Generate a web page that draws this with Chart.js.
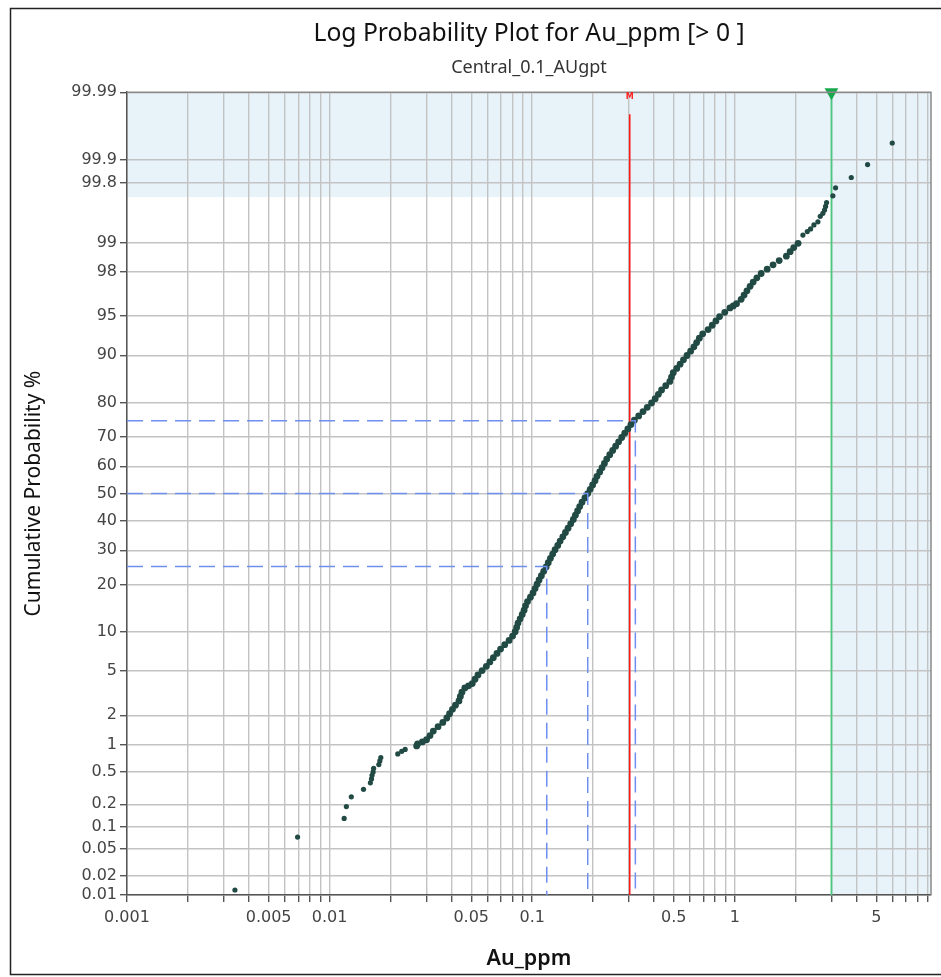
<!DOCTYPE html>
<html>
<head>
<meta charset="utf-8">
<title>Log Probability Plot for Au_ppm</title>
<script src="https://cdn.jsdelivr.net/npm/chart.js@4.4.1/dist/chart.umd.min.js"></script>
<style>
  html, body { margin: 0; padding: 0; background: #fff; }
  #wrap { width: 941px; height: 977px; }
</style>
</head>
<body>
<div id="wrap"><canvas id="probChart" width="941" height="977"></canvas></div>
<script>
// ---- sample values (Au ppm, sorted) and their cumulative probability % ----
const auPpm = [
  0.00341, 0.00695, 0.0118, 0.0121, 0.0128, 0.0147, 0.0159, 0.0161, 0.0162, 0.0164,
  0.0165, 0.0175, 0.0177, 0.0179, 0.0217, 0.0227, 0.0236, 0.0269,
  0.0272, 0.0287, 0.0301, 0.0313, 0.0325, 0.0343, 0.0362, 0.0379, 0.0391, 0.0404,
  0.0418, 0.0435, 0.0442, 0.0450, 0.0465, 0.0485, 0.0506, 0.0522, 0.0540, 0.0566,
  0.0594, 0.0618, 0.0643, 0.0670, 0.0698, 0.0732, 0.0769, 0.0800, 0.0824, 0.0838,
  0.0851, 0.0872, 0.0893, 0.0912, 0.0927, 0.0948, 0.0980, 0.1009, 0.1033, 0.1057,
  0.1081, 0.1110, 0.1140, 0.1172, 0.1200, 0.1230, 0.1262, 0.1297, 0.1337, 0.1374,
  0.1416, 0.1459, 0.1503, 0.1549, 0.1596, 0.1634, 0.1675, 0.1716, 0.1762, 0.1820,
  0.1879, 0.1933, 0.1987, 0.2042, 0.2088, 0.2154, 0.2212, 0.2272, 0.2333, 0.2415,
  0.2496, 0.2582, 0.2671, 0.2766, 0.2864, 0.2966, 0.3072, 0.3194, 0.3355, 0.3524,
  0.3698, 0.3882, 0.4046, 0.4196, 0.4352, 0.4563, 0.4780, 0.4871, 0.4969, 0.5170,
  0.5370, 0.5580, 0.5809, 0.6053, 0.6284, 0.6481, 0.6683, 0.6944, 0.7379, 0.7740,
  0.8071, 0.8414, 0.8925, 0.9462, 0.983, 1.020, 1.075, 1.111, 1.148, 1.190,
  1.232, 1.285, 1.350, 1.445, 1.545, 1.656, 1.797, 1.876, 1.954, 2.053,
  2.169, 2.280, 2.367, 2.458, 2.572, 2.642, 2.721, 2.774, 2.806, 2.838,
  3.049, 3.144, 3.757, 4.523, 5.987
];
const cumPct = [
  0.012, 0.073, 0.131, 0.187, 0.248, 0.307, 0.368, 0.410, 0.453, 0.496,
  0.546, 0.602, 0.663, 0.722, 0.793, 0.847, 0.890, 0.970,
  1.02, 1.07, 1.13, 1.25, 1.39, 1.54, 1.70, 1.88, 2.07, 2.28,
  2.50, 2.74, 3.01, 3.29, 3.59, 3.75, 3.92, 4.27, 4.65, 5.05,
  5.48, 5.94, 6.43, 6.94, 7.49, 8.08, 8.69, 9.34, 10.03, 10.75,
  11.51, 12.30, 13.14, 14.01, 14.92, 15.87, 16.85, 17.88, 18.94, 20.05,
  21.19, 22.36, 23.58, 24.83, 26.11, 27.43, 28.77, 30.15, 31.56, 33.00,
  34.46, 35.94, 37.45, 38.97, 40.52, 42.07, 43.64, 45.22, 46.81, 48.40,
  50.00, 51.60, 53.19, 54.78, 56.36, 57.93, 59.48, 61.03, 62.55, 64.06,
  65.54, 67.00, 68.44, 69.85, 71.23, 72.57, 73.89, 75.17, 76.42, 77.64,
  78.81, 79.95, 81.06, 82.12, 83.15, 84.13, 85.08, 85.99, 86.86, 87.70,
  88.49, 89.25, 89.97, 90.66, 91.31, 91.92, 92.51, 93.06, 93.57, 94.06,
  94.52, 94.95, 95.35, 95.73, 95.90, 96.08, 96.41, 96.71, 96.99, 97.26,
  97.50, 97.72, 97.93, 98.12, 98.30, 98.46, 98.61, 98.75, 98.87, 98.98,
  99.17, 99.24, 99.29, 99.36, 99.41, 99.49, 99.53, 99.57, 99.61, 99.65,
  99.71, 99.77, 99.83, 99.885, 99.942
];

// quartiles, mean and top-cut
const quartilePct = [25, 50, 75];
const quartileAu = [0.118, 0.188, 0.323];
const meanAu = 0.303;
const topCutAu = 3.0;
const shadePct = 99.7;

// axis ticks
const yTickValues = [0.01, 0.02, 0.05, 0.1, 0.2, 0.5, 1, 2, 5, 10, 20, 30, 40, 50, 60, 70, 80, 90, 95, 98, 99, 99.8, 99.9, 99.99];
const yTickLabels = ['0.01', '0.02', '0.05', '0.1', '0.2', '0.5', '1', '2', '5', '10', '20', '30', '40', '50', '60', '70', '80', '90', '95', '98', '99', '99.8', '99.9', '99.99'];
const xLabelValues = [0.001, 0.005, 0.01, 0.05, 0.1, 0.5, 1, 5];
const xTickLabels = ['0.001', '0.005', '0.01', '0.05', '0.1', '0.5', '1', '5'];
const xMin = 0.001, xMax = 9.3;

// gridlines at every 1..9 step of each decade
const xGridValues = [];
[0.001, 0.01, 0.1, 1].forEach(d => {
    for (let m = 1; m <= 9; m++) xGridValues.push(+(m * d).toPrecision(6));
});

// ---- normal distribution helpers for the probability axis ----
function probit(p) {
    const a = [-39.69683028665376, 220.9460984245205, -275.9285104469687, 138.3577518672690, -30.66479806614716, 2.506628277459239];
    const b = [-54.47609879822406, 161.5858368580409, -155.6989798598866, 66.80131188771972, -13.28068155288572];
    const c = [-0.007784894002430293, -0.3223964580411365, -2.400758277161838, -2.549732539343734, 4.374664141464968, 2.938163982698783];
    const d = [0.007784695709041462, 0.3224671290700398, 2.445134137142996, 3.754408661907416];
    p = Math.min(Math.max(p, 1e-12), 1 - 1e-12);
    const lo = 0.02425;
    if (p < lo) {
        const q = Math.sqrt(-2 * Math.log(p));
        return (((((c[0] * q + c[1]) * q + c[2]) * q + c[3]) * q + c[4]) * q + c[5]) /
            ((((d[0] * q + d[1]) * q + d[2]) * q + d[3]) * q + 1);
    }
    if (p > 1 - lo) {
        const q = Math.sqrt(-2 * Math.log(1 - p));
        return -(((((c[0] * q + c[1]) * q + c[2]) * q + c[3]) * q + c[4]) * q + c[5]) /
            ((((d[0] * q + d[1]) * q + d[2]) * q + d[3]) * q + 1);
    }
    const q = p - 0.5, r = q * q;
    return (((((a[0] * r + a[1]) * r + a[2]) * r + a[3]) * r + a[4]) * r + a[5]) * q /
        (((((b[0] * r + b[1]) * r + b[2]) * r + b[3]) * r + b[4]) * r + 1);
}

function normCdf(z) {
    const t = 1 / (1 + 0.3275911 * Math.abs(z) / Math.SQRT2);
    const y = 1 - (((((1.061405429 * t - 1.453152027) * t) + 1.421413741) * t - 0.284496736) * t + 0.254829592) * t * Math.exp(-z * z / 2);
    return z >= 0 ? 0.5 * (1 + y) : 0.5 * (1 - y);
}

// Probability (normal quantile) scale, values in percent
class ProbabilityScale extends Chart.Scale {
    static id = 'probability';
    static defaults = {};

    determineDataLimits() {
        this.min = this.options.min ?? 0.01;
        this.max = this.options.max ?? 99.99;
    }
    buildTicks() {
        return yTickValues.map(v => ({ value: v }));
    }
    getLabelForValue(value) {
        return String(value);
    }
    configure() {
        super.configure();
        this._zMin = probit(this.min / 100);
        this._zMax = probit(this.max / 100);
    }
    getPixelForValue(value) {
        const z = probit(value / 100);
        return this.getPixelForDecimal((z - this._zMin) / (this._zMax - this._zMin));
    }
    getValueForPixel(pixel) {
        const t = this.getDecimalForPixel(pixel);
        return 100 * normCdf(this._zMin + t * (this._zMax - this._zMin));
    }
}
Chart.register(ProbabilityScale);

// Shaded zones, figure frame, plot box and mean marker
const decorPlugin = {
    id: 'decor',
    beforeDraw(chart) {
        const { ctx, chartArea: a } = chart;
        const x = chart.scales.x, y = chart.scales.y;
        ctx.save();
        ctx.fillStyle = '#fff';
        ctx.fillRect(0, 0, chart.width, chart.height);
        ctx.strokeStyle = '#222';
        ctx.lineWidth = 1.5;
        ctx.strokeRect(10.5, 8.5, chart.width, 966);

        const xc = x.getPixelForValue(topCutAu);
        const yc = y.getPixelForValue(shadePct);
        ctx.fillStyle = '#e7f3f9';
        ctx.fillRect(a.left, a.top, a.right - a.left, yc - a.top);
        ctx.fillRect(xc, yc, a.right - xc, a.bottom - yc);
        ctx.restore();
    },
    afterDatasetsDraw(chart) {
        const { ctx, chartArea: a } = chart;
        ctx.save();
        ctx.strokeStyle = '#8a8a8a';
        ctx.lineWidth = 1.5;
        ctx.beginPath();
        ctx.moveTo(a.left, a.top);
        ctx.lineTo(a.right, a.top);
        ctx.lineTo(a.right, a.bottom);
        ctx.stroke();

        ctx.fillStyle = '#ff2020';
        ctx.font = 'bold 8px "DejaVu Sans"';
        ctx.textAlign = 'center';
        ctx.textBaseline = 'middle';
        ctx.fillText('M', chart.scales.x.getPixelForValue(meanAu), a.top + 5);
        ctx.restore();
    }
};

const tickFont = { family: 'DejaVu Sans', size: 16 };

const quartileSets = quartilePct.map((pct, i) => ({
    data: [{ x: xMin, y: pct }, { x: quartileAu[i], y: pct }, { x: quartileAu[i], y: 0.01 }],
    showLine: true,
    borderColor: '#6f8ff0',
    borderWidth: 1.5,
    borderDash: [16, 8],
    pointRadius: 0
}));

new Chart(document.getElementById('probChart'), {
    type: 'scatter',
    data: {
        datasets: [
            ...quartileSets,
            {
                data: auPpm.map((v, i) => ({ x: v, y: cumPct[i] })),
                // the dense middle of the curve is drawn a little heavier
                pointRadius: ctx => {
                    const p = ctx.raw ? ctx.raw.y : 50;
                    return p > 0.95 && p < 99.0 ? 3.4 : 2.6;
                },
                pointBackgroundColor: '#224a44',
                pointBorderWidth: 0
            },
            {
                data: [{ x: meanAu, y: 0.01 }, { x: meanAu, y: 99.978 }],
                showLine: true,
                borderColor: '#ff1a1a',
                borderWidth: 1.6,
                pointRadius: 0
            },
            {
                data: [{ x: topCutAu, y: 0.01 }, { x: topCutAu, y: 99.99 }],
                showLine: true,
                borderColor: '#4cc882',
                borderWidth: 1.8,
                pointRadius: [0, 8],
                pointStyle: 'triangle',
                pointRotation: 180,
                pointBackgroundColor: '#1aa84f',
                pointBorderWidth: 0,
                clip: false
            }
        ]
    },
    options: {
        responsive: false,
        animation: false,
        events: [],
        layout: { padding: { left: 0, right: 10, top: 0, bottom: 0 } },
        plugins: {
            legend: { display: false },
            tooltip: { enabled: false },
            title: {
                display: true,
                fullSize: false,
                text: 'Log Probability Plot for Au_ppm [> 0 ]',
                color: '#111',
                font: { family: 'Noto Sans', size: 24.7, weight: 'normal', lineHeight: 1.2 },
                padding: { top: 19, bottom: 0 }
            },
            subtitle: {
                display: true,
                fullSize: false,
                text: 'Central_0.1_AUgpt',
                color: '#333',
                font: { family: 'Noto Sans', size: 18, lineHeight: 1.2 },
                padding: { top: 8, bottom: 14 }
            }
        },
        scales: {
            x: {
                type: 'logarithmic',
                min: xMin,
                max: xMax,
                bounds: 'data',
                afterBuildTicks: s => { s.ticks = xGridValues.map(v => ({ value: v })); },
                afterFit: s => { s.height = 82; },
                ticks: {
                    autoSkip: false,
                    maxRotation: 0,
                    font: tickFont,
                    color: '#444',
                    padding: 6,
                    callback: value => {
                        const i = xLabelValues.findIndex(v => Math.abs(v - value) / v < 1e-6);
                        return i >= 0 ? xTickLabels[i] : '';
                    }
                },
                grid: { color: '#c3c3c3', lineWidth: 1.4, tickLength: 7, tickColor: '#555' },
                border: { color: '#555', width: 1.5 },
                title: {
                    display: true,
                    text: 'Au_ppm',
                    color: '#111',
                    font: { family: 'Noto Sans', size: 21.5, weight: '600' },
                    padding: { top: 0, bottom: 5 }
                }
            },
            y: {
                type: 'probability',
                position: 'left',
                min: 0.01,
                max: 99.99,
                afterFit: s => { s.width = 127; },
                ticks: {
                    autoSkip: false,
                    font: tickFont,
                    color: '#444',
                    padding: 3,
                    callback: (value, i) => yTickLabels[i]
                },
                grid: { color: '#c3c3c3', lineWidth: 1.4, tickLength: 7, tickColor: '#555' },
                border: { color: '#555', width: 1.5 },
                title: {
                    display: true,
                    text: 'Cumulative Probability %',
                    color: '#111',
                    font: { family: 'Noto Sans', size: 21 },
                    padding: { top: 21, bottom: 0 }
                }
            }
        }
    },
    plugins: [decorPlugin]
});
</script>
</body>
</html>
